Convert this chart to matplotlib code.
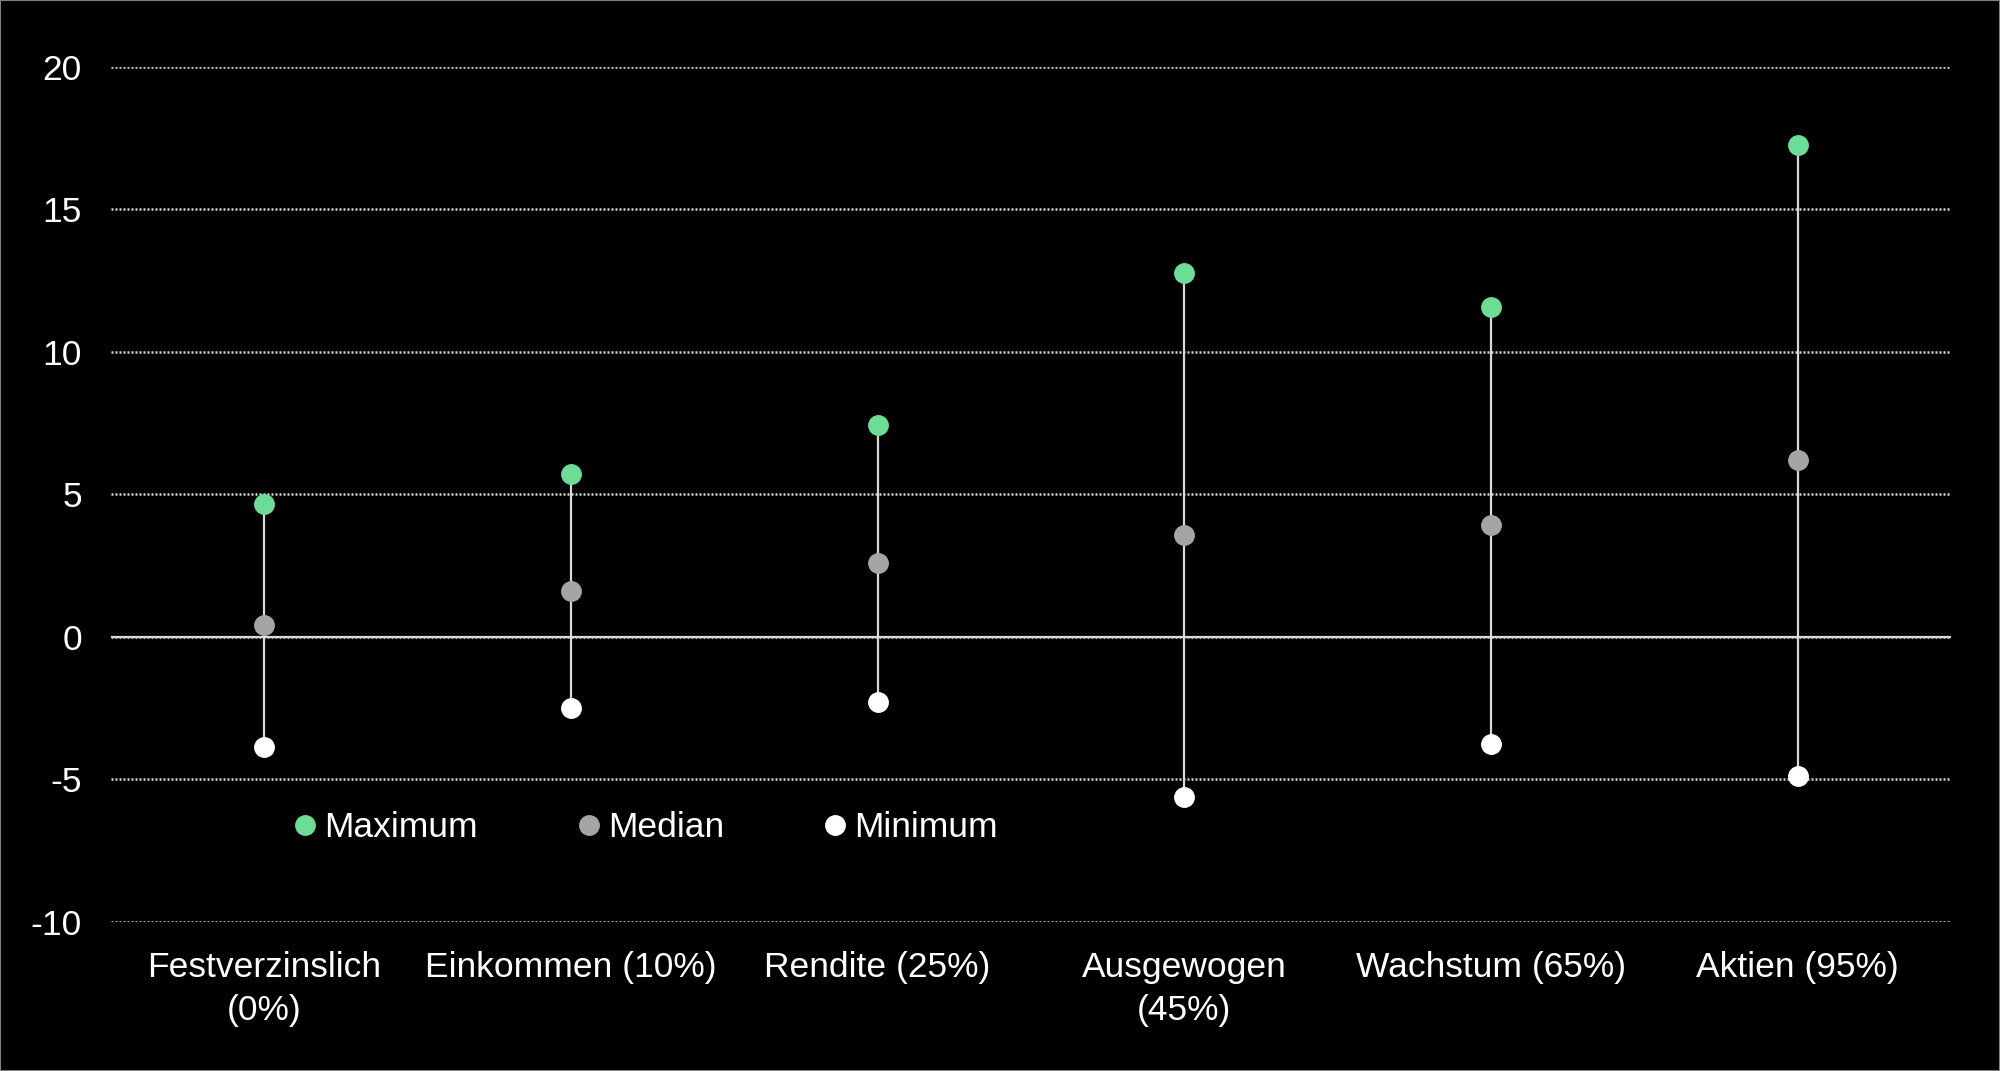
import matplotlib.pyplot as plt
from matplotlib.patches import Rectangle

# Renditespannen je Portfolio
kategorien = ["Festverzinslich\n(0%)", "Einkommen (10%)", "Rendite (25%)",
              "Ausgewogen\n(45%)", "Wachstum (65%)", "Aktien (95%)"]
maximum = [4.65, 5.7, 7.43, 12.76, 11.56, 17.25]
median = [0.4, 1.6, 2.6, 3.58, 3.92, 6.2]
minimum = [-3.88, -2.5, -2.28, -5.62, -3.77, -4.87]
yticks = [-10, -5, 0, 5, 10, 15, 20]

plt.rcParams['font.family'] = ['Liberation Sans', 'DejaVu Sans']
plt.rcParams['axes.unicode_minus'] = False

fs = 25.5

fig = plt.figure(figsize=(20, 10.71), dpi=100, facecolor='black')
ax = fig.add_axes([0.0555, 0.1394, 0.92, 0.7983])
ax.set_facecolor('black')

x = list(range(len(kategorien)))

ax.vlines(x, minimum, maximum, color='#d9d9d9', linewidth=1.6, zorder=3)
ax.plot(x, maximum, 'o', color='#6ddc96', markersize=14, zorder=4, label="Maximum")
ax.plot(x, median, 'o', color='#a5a5a5', markersize=14, zorder=4, label="Median")
ax.plot(x, minimum, 'o', color='white', markersize=14, zorder=4, label="Minimum")

ax.axhline(0, color='#d9d9d9', linewidth=1.6, zorder=2)

ax.set_xlim(-0.5, len(kategorien) - 0.5)
ax.set_ylim(-10, 20)
ax.set_yticks(yticks)
ax.set_xticks(x)
ax.set_xticklabels(kategorien, linespacing=1.4)
ax.yaxis.grid(True, color='#d9d9d9', linestyle=(0, (0.8, 0.8)), linewidth=1.8)
ax.set_axisbelow(True)

ax.tick_params(axis='y', length=0, pad=21, labelsize=fs, labelcolor='white')
ax.tick_params(axis='x', length=0, pad=21, labelsize=fs, labelcolor='white')
for s in ax.spines.values():
    s.set_visible(False)

leg = fig.legend(loc='center left', bbox_to_anchor=(0.1472, 0.2269), ncol=3,
                 frameon=False, fontsize=fs, handlelength=0.6, handletextpad=0.24,
                 columnspacing=2.83, borderpad=0, borderaxespad=0)
for t in leg.get_texts():
    t.set_color('white')

# dünner grauer Rahmen ums Bild
fig.patches.append(Rectangle((0, 0), 1, 1, transform=fig.transFigure, fill=False,
                             edgecolor='#808080', linewidth=1.5))

fig.savefig('out.png', dpi=100, facecolor='black')
